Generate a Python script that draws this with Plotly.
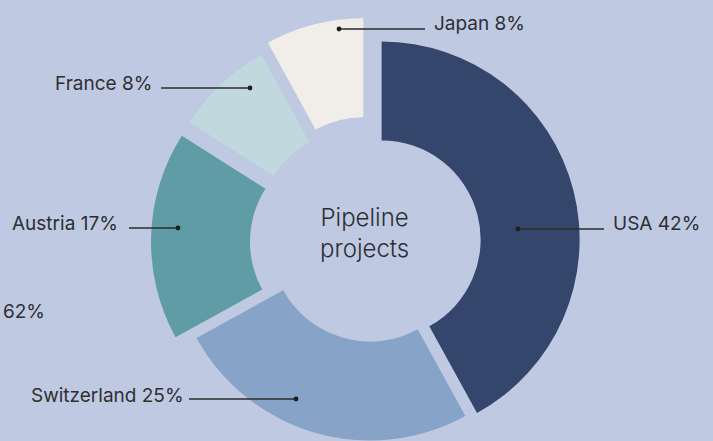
import math
import plotly.graph_objects as go

# ---- data ----
countries = ["USA", "Switzerland", "Austria", "France", "Japan"]
shares = [42, 25, 17, 8, 8]
colors = ["#34466c", "#88a3c8", "#5f9ca6", "#c1d9de", "#f1ede9"]
pull_px = [12, 0, 21, 19, 27]          # outward offset of each slice (px)
center_title = "Pipeline<br>projects"
extra_label = "62%"

# ---- layout constants (pixels) ----
W, H = 713, 441
CX, CY = 370, 242.5
R = 198
HOLE = 0.5
BG = "#bfcae2"
TXT = "#2e2e33"
FONT = "Inter, Lato, sans-serif"
LABEL_SIZE = 19

# label leader lines: (dot_x, dot_y, line_end_x, text_x, text_y, anchor)
label_geo = {
    "USA": (518, 229, 604, 611, 223, "left"),
    "Switzerland": (296, 399, 189, 186, 395, "right"),
    "Austria": (178, 228, 129, 120, 223, "right"),
    "France": (250, 88, 161, 154, 83, "right"),
    "Japan": (339, 29, 425, 432, 23, "left"),
}


def px(x):
    return x / W


def py(y):
    return 1 - y / H


total = sum(shares)
fig = go.Figure()
start = 0.0
for name, v, col, p in zip(countries, shares, colors, pull_px):
    ang0 = start / total * 360
    mid = (start + v / 2) / total * 360
    cx = CX + p * math.sin(math.radians(mid))
    cy = CY - p * math.cos(math.radians(mid))
    fig.add_trace(go.Pie(
        values=[v, total - v],
        labels=[name, "_rest_" + name],
        rotation=ang0,
        direction="clockwise",
        sort=False,
        hole=HOLE,
        marker=dict(colors=[col, "rgba(0,0,0,0)"], line=dict(width=0)),
        textinfo="none",
        hoverinfo="skip",
        showlegend=False,
        domain=dict(x=[px(cx - R), px(cx + R)], y=[py(cy + R), py(cy - R)]),
    ))
    start += v

shapes = []
annotations = []
for name, v in zip(countries, shares):
    dx, dy, lx, tx, ty, anc = label_geo[name]
    shapes.append(dict(type="line", xref="paper", yref="paper",
                       x0=px(dx), y0=py(dy), x1=px(lx), y1=py(dy),
                       line=dict(color="#2b2b2b", width=1.6), layer="above"))
    rr = 2.4
    shapes.append(dict(type="circle", xref="paper", yref="paper",
                       x0=px(dx - rr), x1=px(dx + rr), y0=py(dy + rr), y1=py(dy - rr),
                       fillcolor="#1e1e1e", line=dict(width=0), layer="above"))
    annotations.append(dict(xref="paper", yref="paper", x=px(tx), y=py(ty),
                            text=f"{name} {v}%", showarrow=False,
                            xanchor=anc, yanchor="middle",
                            font=dict(family=FONT, size=LABEL_SIZE, color=TXT)))

annotations.append(dict(xref="paper", yref="paper", x=px(1), y=py(311),
                        text=extra_label, showarrow=False, xanchor="left",
                        yanchor="middle", font=dict(family=FONT, size=LABEL_SIZE, color=TXT)))
annotations.append(dict(xref="paper", yref="paper", x=px(364), y=py(233),
                        text=center_title, showarrow=False, xanchor="center",
                        yanchor="middle",
                        font=dict(family=FONT, size=24, color=TXT, weight=300)))

fig.update_layout(
    width=W, height=H,
    margin=dict(l=0, r=0, t=0, b=0),
    paper_bgcolor=BG, plot_bgcolor=BG,
    shapes=shapes, annotations=annotations,
    showlegend=False,
)

fig.write_html(
    "out.html",
    config={"displayModeBar": False},
    post_script="document.body.style.margin='0';document.body.style.overflow='hidden';",
)
